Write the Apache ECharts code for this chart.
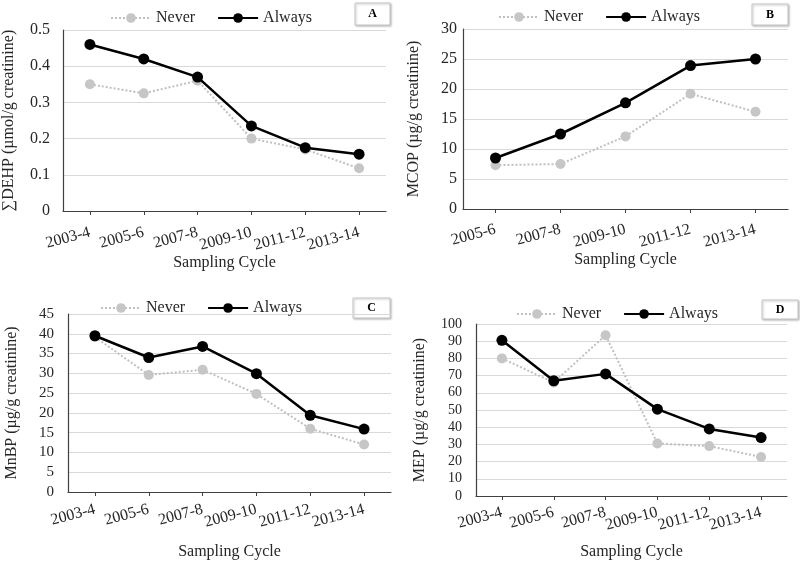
<!DOCTYPE html>
<html>
<head>
<meta charset="utf-8">
<script src="https://cdn.jsdelivr.net/npm/echarts@6/dist/echarts.min.js"></script>
<style>html,body{margin:0;padding:0;background:#fff;}#c{width:800px;height:562px;}</style>
</head>
<body>
<div id="c"></div>
<script>
const cycles6 = ['2003-4','2005-6','2007-8','2009-10','2011-12','2013-14'];
const cycles5 = ['2005-6','2007-8','2009-10','2011-12','2013-14'];

const dehpNever  = [0.35, 0.325, 0.36, 0.20, 0.17, 0.118];
const dehpAlways = [0.46, 0.42, 0.37, 0.235, 0.175, 0.157];
const mcopNever  = [7.3, 7.5, 12.1, 19.2, 16.2];
const mcopAlways = [8.5, 12.5, 17.7, 23.9, 25.0];
const mnbpNever  = [39.2, 29.6, 30.9, 24.8, 16.0, 12.0];
const mnbpAlways = [39.5, 34.0, 36.8, 29.9, 19.4, 15.9];
const mepNever   = [80, 66, 93.5, 30.5, 29, 22.7];
const mepAlways  = [90.5, 67, 71, 50.5, 39, 34];

const yNames = ['\u2211DEHP (\u00b5mol/g creatinine)', 'MCOP (\u00b5g/g creatinine)', 'MnBP (\u00b5g/g creatinine)', 'MEP (\u00b5g/g creatinine)'];
const yMax = [0.5, 30, 45, 100];
const yInterval = [0.1, 5, 5, 10];
const panelLetters = ['A','B','C','D'];
const xTitle = 'Sampling Cycle';

const FONT = '"Liberation Serif", "Times New Roman", serif';
const TXT = '#262626';

const grids = [
  {left: 62, top: 30, width: 324, height: 181},
  {left: 463, top: 29, width: 325, height: 180},
  {left: 68, top: 314, width: 323, height: 178},
  {left: 476, top: 324, width: 311, height: 172}
];
const xNameGap = [37, 41, 52, 48];
const yNameGap = [46, 41, 48, 48];
const xLabelMargin = [21, 20, 17, 16];
const yLabelMargin = [13, 6, 14, 14];
const xCats = [cycles6, cycles5, cycles6, cycles6];
const neverData = [dehpNever, mcopNever, mnbpNever, mepNever];
const alwaysData = [dehpAlways, mcopAlways, mnbpAlways, mepAlways];
const legendPos = [{left: 105, top: 5}, {left: 493, top: 4}, {left: 95, top: 295}, {left: 511, top: 301}];
const boxes = [
  {x: 355, y: 3, w: 35, h: 22},
  {x: 752, y: 4, w: 36, h: 21},
  {x: 353, y: 298, w: 37, h: 20},
  {x: 762, y: 300, w: 36, h: 19}
];
const labelSize = [16, 16, 15, 14];

const xAxis = [], yAxis = [], series = [], legend = [], graphic = [];
for (let i = 0; i < 4; i++) {
  xAxis.push({
    type: 'category', gridIndex: i, data: xCats[i], boundaryGap: true,
    name: xTitle, nameLocation: 'middle', nameGap: xNameGap[i],
    nameTextStyle: {fontFamily: FONT, fontSize: 16, color: TXT},
    axisLine: {lineStyle: {color: '#404040', width: 1.2}},
    axisTick: {show: true, alignWithLabel: true, interval: 0, length: 4, lineStyle: {color: '#404040'}},
    axisLabel: {interval: 0, rotate: 15, fontFamily: FONT, fontSize: 16, color: TXT, margin: xLabelMargin[i]},
    splitLine: {show: false}
  });
  yAxis.push({
    type: 'value', gridIndex: i, min: 0, max: yMax[i], interval: yInterval[i],
    name: yNames[i], nameLocation: 'middle', nameGap: yNameGap[i], nameRotate: 90,
    nameTextStyle: {fontFamily: FONT, fontSize: 16, color: TXT},
    axisLine: {show: true, lineStyle: {color: '#404040', width: 1.2}},
    axisTick: {show: false},
    axisLabel: {fontFamily: FONT, fontSize: labelSize[i], color: TXT, margin: yLabelMargin[i]},
    splitLine: {show: true, lineStyle: {color: '#d9d9d9', width: 1}}
  });
  series.push({
    name: 'Never', type: 'line', xAxisIndex: i, yAxisIndex: i, data: neverData[i],
    symbol: 'circle', symbolSize: 10,
    itemStyle: {color: '#c6c6c6'},
    lineStyle: {color: '#c0c0c0', width: 2, type: 'dotted'},
    z: 2, animation: false
  });
  series.push({
    name: 'Always', type: 'line', xAxisIndex: i, yAxisIndex: i, data: alwaysData[i],
    symbol: 'circle', symbolSize: 11,
    itemStyle: {color: '#000'},
    lineStyle: {color: '#000', width: 2.5, type: 'solid'},
    z: 3, animation: false
  });
  legend.push({
    left: legendPos[i].left, top: legendPos[i].top, orient: 'horizontal',
    data: ['Never', 'Always'], itemWidth: 40, itemHeight: 12, itemGap: 22,
    textStyle: {fontFamily: FONT, fontSize: 16, color: TXT}, selectedMode: false
  });
  const b = boxes[i];
  graphic.push({
    type: 'rect', shape: {x: b.x, y: b.y, width: b.w, height: b.h},
    style: {fill: '#fff', stroke: '#c8c8c8', lineWidth: 1, shadowBlur: 2, shadowColor: 'rgba(0,0,0,0.25)', shadowOffsetX: 1, shadowOffsetY: 1}
  });
  graphic.push({
    type: 'text', x: b.x + b.w / 2, y: b.y + b.h / 2,
    style: {text: panelLetters[i], fontFamily: FONT, fontSize: 12, fontWeight: 'bold', fill: '#000', align: 'center', verticalAlign: 'middle'}
  });
}

const chart = echarts.init(document.getElementById('c'), null, {renderer: 'canvas'});
chart.setOption({
  backgroundColor: '#fff',
  animation: false,
  grid: grids,
  xAxis: xAxis,
  yAxis: yAxis,
  series: series,
  legend: legend,
  graphic: graphic
});
</script>
</body>
</html>
